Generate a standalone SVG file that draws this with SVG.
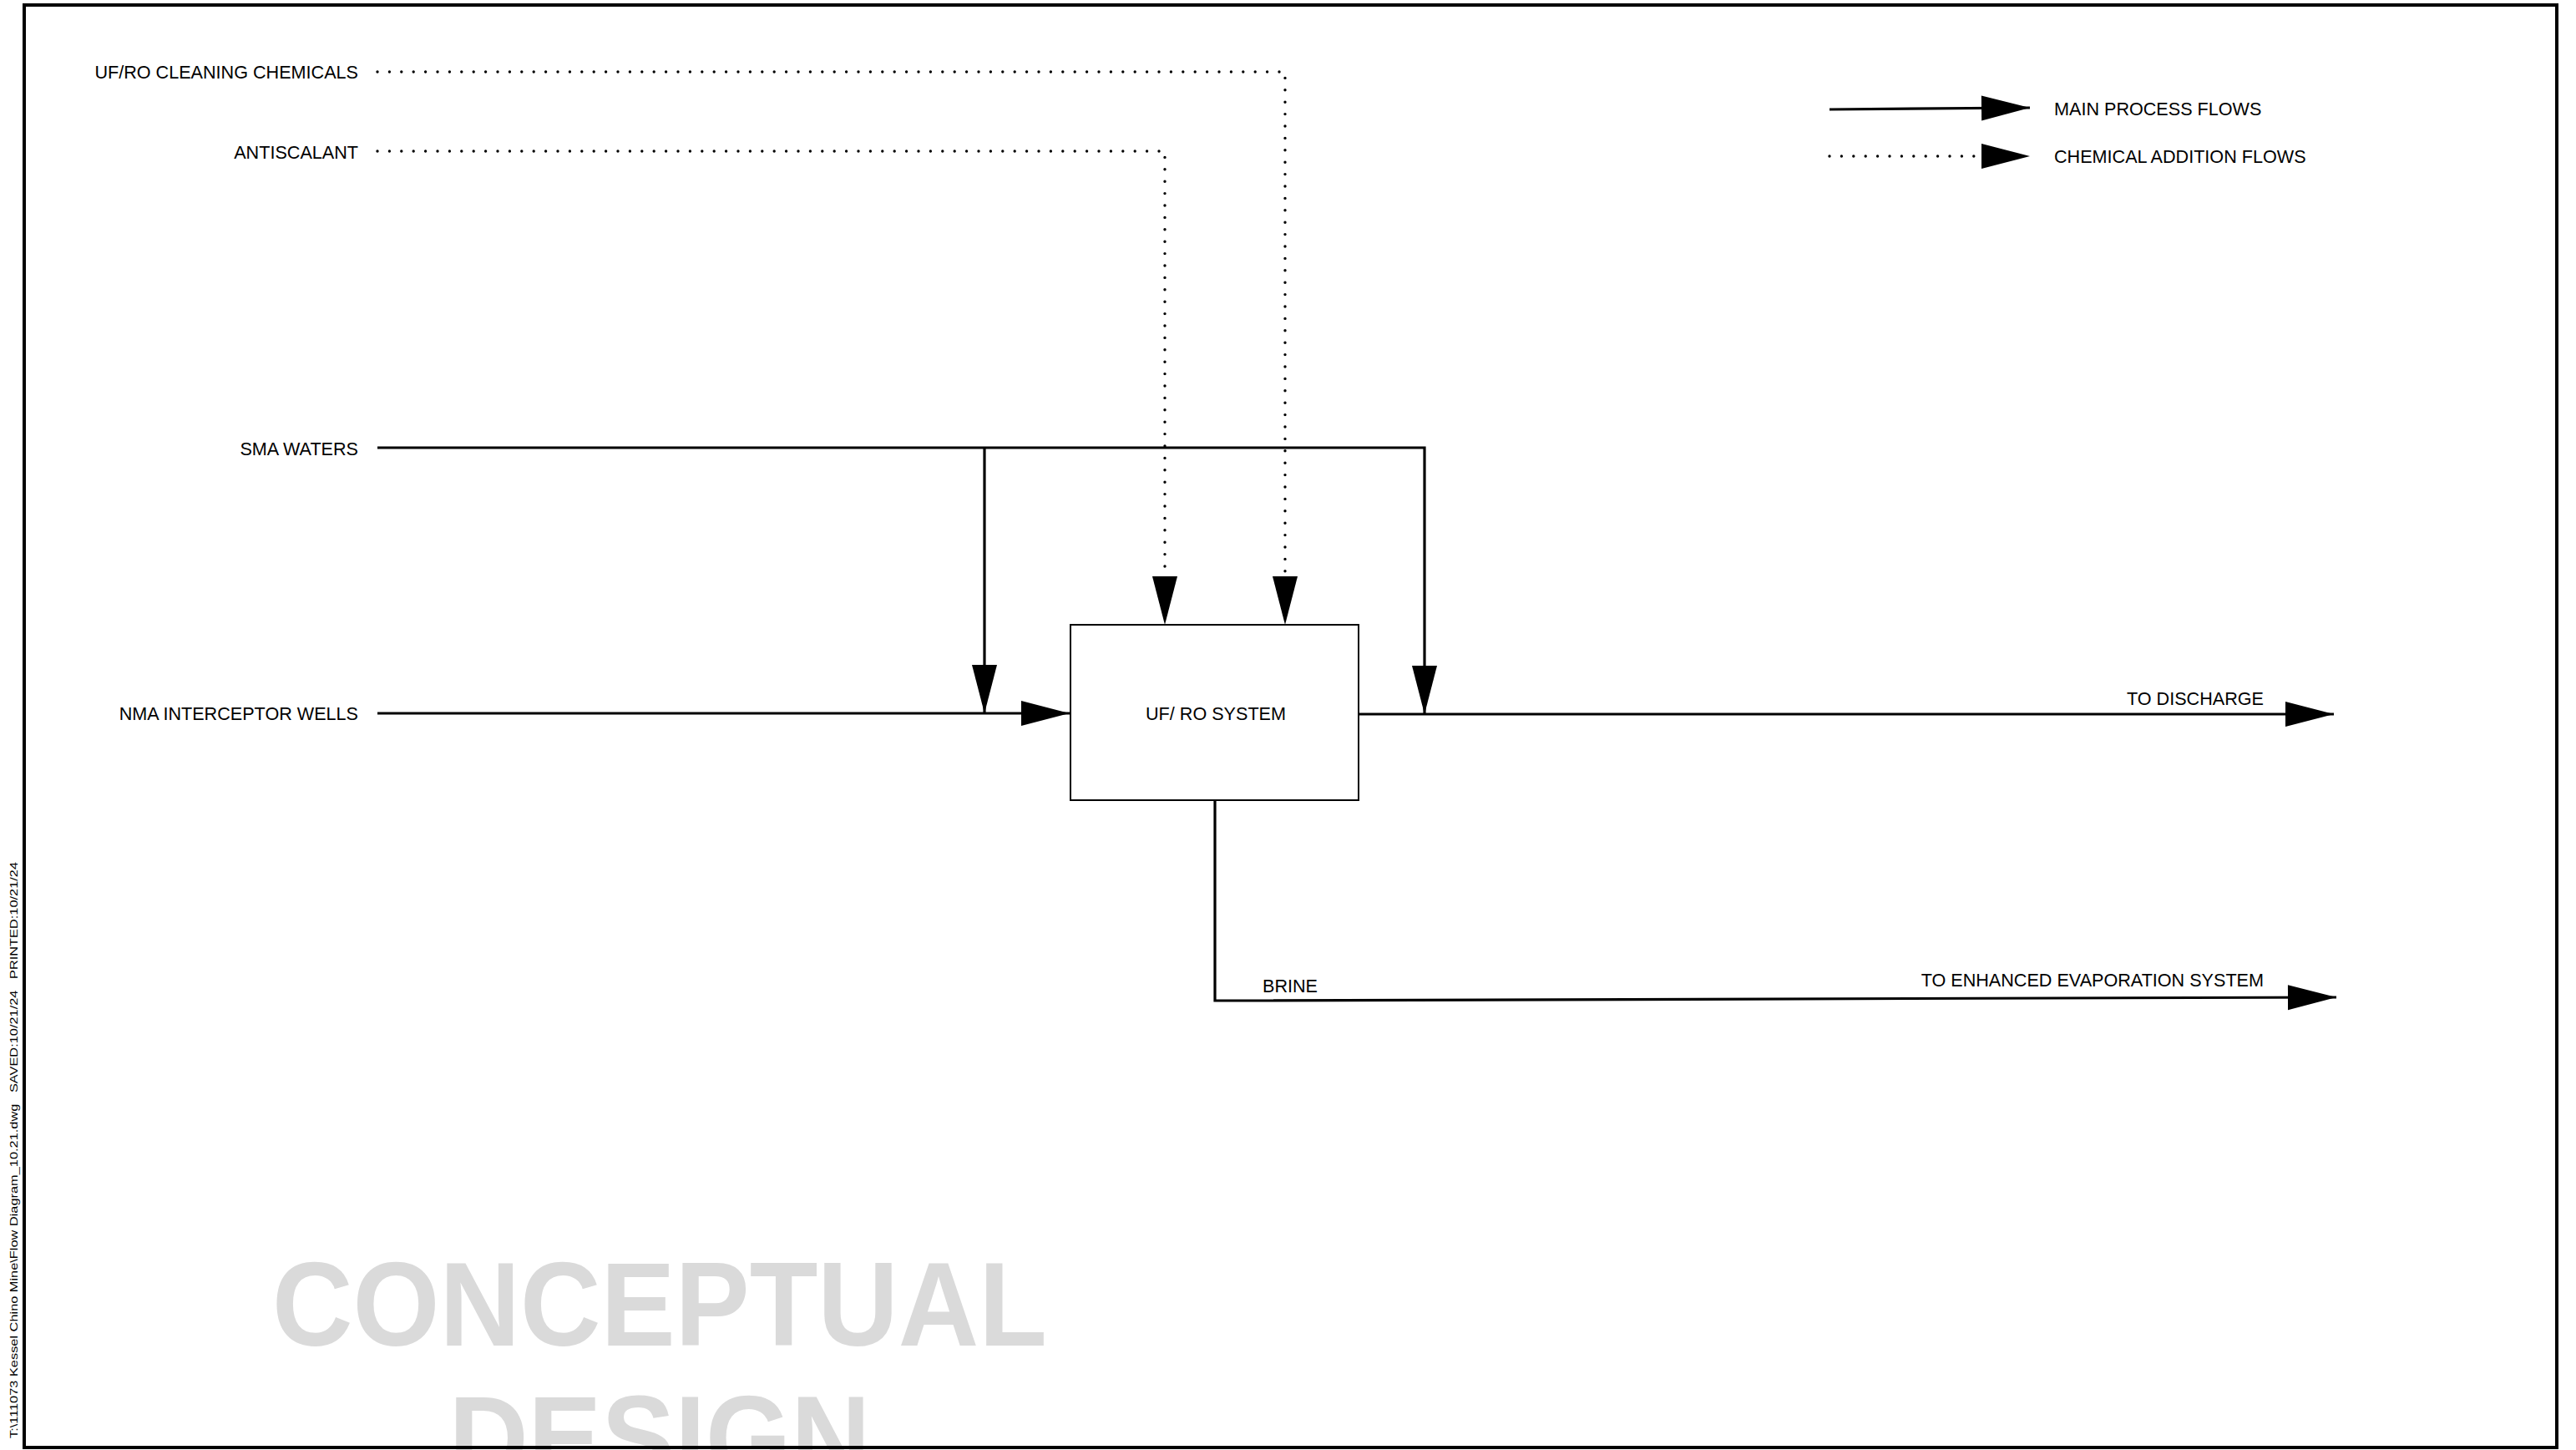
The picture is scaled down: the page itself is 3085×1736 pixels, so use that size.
<svg xmlns="http://www.w3.org/2000/svg" width="3085" height="1736" viewBox="0 0 3085 1736">
<style>
  .lbl { font-family: "Liberation Sans", Arial, sans-serif; font-size: 21.6px; fill: #000; }
  .r { text-anchor: end; }
  .main { fill: none; stroke: #000; stroke-width: 3.2; }
  .chem { fill: none; stroke: #000; stroke-width: 3.4; stroke-linecap: round; stroke-dasharray: 0 14.4; }
  .box { fill: #fff; stroke: #000; stroke-width: 2; }
  .wm { font-family: "Liberation Sans", Arial, sans-serif; font-weight: bold; font-size: 142px; fill: #dadada; text-anchor: middle; }
  .side { font-family: "Liberation Sans Narrow", "Liberation Sans", Arial, sans-serif; font-size: 13px; fill: #000; }
</style>
<defs>
  <marker id="arrow" markerUnits="userSpaceOnUse" markerWidth="60" markerHeight="32" refX="58" refY="15" orient="auto" overflow="visible">
    <path d="M0,0 L58,15 L0,30 Z" fill="#000" stroke="none"/>
  </marker>
</defs>
<rect width="3085" height="1736" fill="#fff"/>

<g id="watermark">
  <text class="wm" x="790" y="1611" textLength="928" lengthAdjust="spacingAndGlyphs">CONCEPTUAL</text>
  <text class="wm" x="790" y="1771" textLength="505" lengthAdjust="spacingAndGlyphs">DESIGN</text>
</g>

<g id="connectors">
  <path class="chem" d="M452,86 H1539 V700"/>
  <path d="M1539,690 V748" fill="none" stroke="none" marker-end="url(#arrow)"/>
  <path class="chem" d="M452,181 H1395 V700"/>
  <path d="M1395,690 V748" fill="none" stroke="none" marker-end="url(#arrow)"/>
  <path class="main" d="M452,536 H1706 V855" marker-end="url(#arrow)"/>
  <path class="main" d="M1179,536 V854" marker-end="url(#arrow)"/>
  <path class="main" d="M452,854 H1281" marker-end="url(#arrow)"/>
  <path class="main" d="M1627,855 H2795" marker-end="url(#arrow)"/>
  <path class="main" d="M1455,958 V1198 L2798,1194" marker-end="url(#arrow)"/>
</g>

<g id="node-sources">
  <text class="lbl r" x="429" y="94">UF/RO CLEANING CHEMICALS</text>
  <text class="lbl r" x="429" y="190">ANTISCALANT</text>
  <text class="lbl r" x="429" y="545">SMA WATERS</text>
  <text class="lbl r" x="429" y="862">NMA INTERCEPTOR WELLS</text>
</g>

<g id="node-ufro">
  <rect class="box" x="1282" y="748" width="345" height="210"/>
  <text class="lbl" x="1456" y="862" text-anchor="middle">UF/ RO SYSTEM</text>
</g>

<g id="node-discharge">
  <text class="lbl r" x="2711" y="844">TO DISCHARGE</text>
</g>

<g id="node-brine">
  <text class="lbl" x="1512" y="1188">BRINE</text>
  <text class="lbl r" x="2711" y="1181">TO ENHANCED EVAPORATION SYSTEM</text>
</g>

<g id="legend">
  <path class="main" d="M2191,131 L2431,129" marker-end="url(#arrow)"/>
  <text class="lbl" x="2460" y="138">MAIN PROCESS FLOWS</text>
  <path class="chem" d="M2191,187 H2372"/>
  <path d="M2372,187 H2431" stroke="none" fill="none" marker-end="url(#arrow)"/>
  <text class="lbl" x="2460" y="195">CHEMICAL ADDITION FLOWS</text>
</g>

<g id="frame">
  <rect x="29" y="6" width="3033" height="1727" fill="none" stroke="#000" stroke-width="4"/>
  <text class="side" transform="translate(21,1722) rotate(-90)" textLength="690" lengthAdjust="spacingAndGlyphs" xml:space="preserve">T:\111073 Kessel Chino Mine\Flow Diagram_10.21.dwg   SAVED:10/21/24   PRINTED:10/21/24</text>
</g>
</svg>
